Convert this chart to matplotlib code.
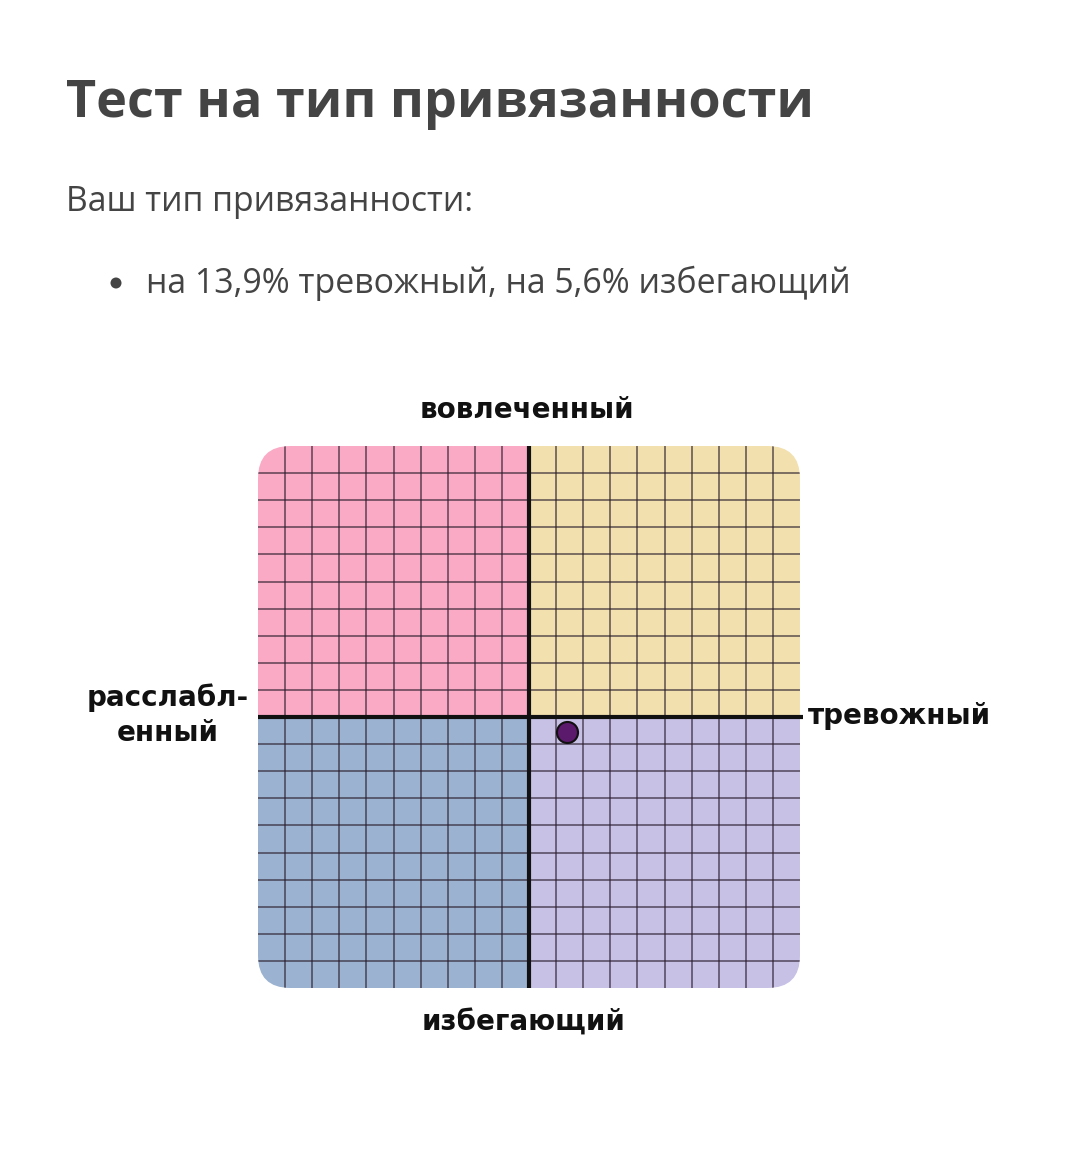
import matplotlib
matplotlib.use("Agg")
import matplotlib.pyplot as plt
from matplotlib.patches import FancyBboxPatch, Rectangle, Circle

# --- data ---
title = "Тест на тип привязанности"
subtitle = "Ваш тип привязанности:"
result_line = "на 13,9% тревожный, на 5,6% избегающий"
axis_labels = {"top": "вовлеченный", "bottom": "избегающий",
               "left": "расслабл-\nенный", "right": "тревожный"}
anxious_pct = [13.9]
avoidant_pct = [5.6]
grid_ticks = list(range(-100, 101, 10))
quadrant_colors = {"tl": "#FBAAC5", "tr": "#F2E1AF", "bl": "#9BB3D1", "br": "#C8C1E6"}

W, H = 1084, 1160
fig = plt.figure(figsize=(W / 100, H / 100), dpi=100)
fig.patch.set_facecolor("white")

def fx(px):
    return px / W

def fy(py):
    return 1 - py / H

txt = "#444444"
fig.text(fx(66), fy(117), title, fontsize=37.5, fontweight="bold", family="Open Sans",
         color=txt, va="baseline", ha="left")
fig.text(fx(66), fy(211), subtitle, fontsize=24.3, family="Open Sans",
         color=txt, va="baseline", ha="left")
fig.text(fx(146), fy(293), result_line, fontsize=24.4, family="Open Sans",
         color=txt, va="baseline", ha="left")
# bullet dot
bullet = Circle((fx(116), fy(283)), radius=5.5 / W, transform=fig.transFigure,
                facecolor=txt, edgecolor="none")
bullet.set_transform(fig.dpi_scale_trans)
bullet.center = (116 / 100, (H - 283) / 100)
bullet.radius = 5.5 / 100
fig.add_artist(bullet)

# chart axes
x0, x1, y0, y1 = 258, 800, 446, 988
ax = fig.add_axes([fx(x0), fy(y1), (x1 - x0) / W, (y1 - y0) / H])
ax.set_xlim(-100, 100)
ax.set_ylim(100, -100)  # avoidant positive downward
ax.axis("off")

clip = FancyBboxPatch((-100, -100), 200, 200,
                      boxstyle="round,pad=0,rounding_size=12",
                      transform=ax.transData, facecolor="none", edgecolor="none")
ax.add_patch(clip)

quads = [(-100, -100, "tl"), (0, -100, "tr"), (-100, 0, "bl"), (0, 0, "br")]
for qx, qy, key in quads:
    r = Rectangle((qx, qy), 100, 100, facecolor=quadrant_colors[key], edgecolor="none", zorder=1)
    ax.add_patch(r)
    r.set_clip_path(clip)

for t in grid_ticks:
    if t in (-100, 100, 0):
        continue
    l1, = ax.plot([t, t], [-100, 100], color="#2a1d2c", lw=1.1, alpha=0.75, zorder=2)
    l2, = ax.plot([-100, 100], [t, t], color="#2a1d2c", lw=1.1, alpha=0.75, zorder=2)
    l1.set_clip_path(clip)
    l2.set_clip_path(clip)

ax.plot([0, 0], [-100, 100], color="#111111", lw=3, zorder=3, solid_capstyle="butt")
ax.plot([-100, 101], [0, 0], color="#111111", lw=3, zorder=3, solid_capstyle="butt",
        clip_on=False)

ax.scatter(anxious_pct, avoidant_pct, s=230, color="#5B1A6C", edgecolor="#111111",
           linewidth=1.5, zorder=5, clip_on=False)

lab = dict(fontsize=20, fontweight="bold", family="DejaVu Sans", color="#111111",
           ha="center", va="center")
fig.text(fx(527), fy(410), axis_labels["top"], **lab)
fig.text(fx(524), fy(1023), axis_labels["bottom"], **lab)
fig.text(fx(899), fy(716), axis_labels["right"], **lab)
fig.text(fx(168), fy(715), axis_labels["left"], linespacing=1.3, **lab)

fig.savefig("out.png", dpi=100, facecolor="white")
